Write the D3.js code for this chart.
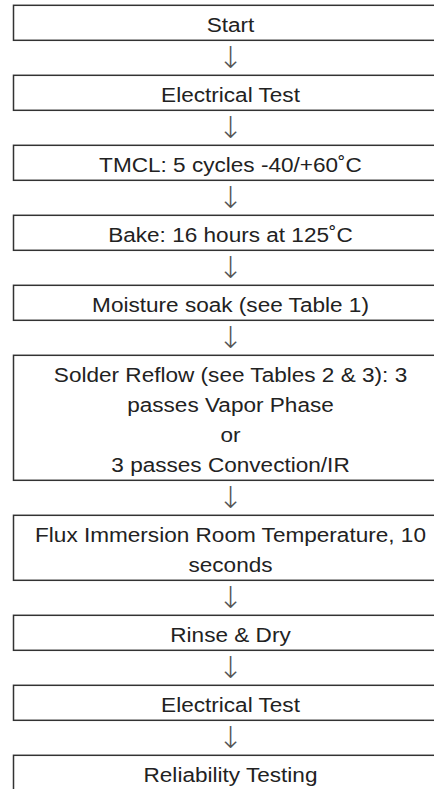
<!DOCTYPE html>
<html>
  <head>
    <meta charset="utf-8">
    <title>Test Flow</title>
    <script src="https://d3js.org/d3.v7.min.js"></script>
    <style>
      html, body { margin: 0; padding: 0; background: #fff; overflow: hidden; }
      .step-text { font-family: "Liberation Sans", Arial, sans-serif; font-size: 21px; fill: #222; }
      .arrow { font-family: "DejaVu Sans", sans-serif; font-size: 30px; font-weight: 200; fill: #555; }
    </style>
  </head>
  <body>
    <div id="chart"></div>
    <script>
      // each step is a box, lines are split as they wrap in the original
      const stepLines = [
        ["Start"],
        ["Electrical Test"],
        ["TMCL: 5 cycles -40/+60˚C"],
        ["Bake: 16 hours at 125˚C"],
        ["Moisture soak (see Table 1)"],
        ["Solder Reflow (see Tables 2 & 3): 3", "passes Vapor Phase", "or", "3 passes Convection/IR"],
        ["Flux Immersion Room Temperature, 10", "seconds"],
        ["Rinse & Dry"],
        ["Electrical Test"],
        ["Reliability Testing"]
      ];
      const arrowChar = "↓";

      const width = 434, height = 789;
      const lineH = 30, pad = 5, gap = 35;
      const boxLeft = 13.5, boxRight = 447.5;
      const cx = (boxLeft + boxRight) / 2;

      const svg = d3.select("#chart").append("svg")
          .attr("width", width)
          .attr("height", height);

      // stack the boxes top to bottom
      let cursor = 5.3;
      const boxes = stepLines.map((lines, i) => {
        const h = lines.length * lineH + pad;
        const b = { lines: lines, y: cursor, h: h, i: i };
        cursor += h + gap;
        return b;
      });

      const x = d3.scaleLinear().domain([0, 1]).range([boxLeft, boxRight]);

      const g = svg.selectAll(".step")
          .data(boxes)
        .enter().append("g")
          .attr("class", "step")
          .attr("transform", d => `translate(0,${d.y})`);

      g.append("rect")
          .attr("x", x(0))
          .attr("y", 0)
          .attr("width", x(1) - x(0))
          .attr("height", d => d.h)
          .attr("fill", "#fff")
          .attr("stroke", "#333")
          .attr("stroke-width", 1.5);

      g.each(function(d) {
        const grp = d3.select(this);
        d.lines.forEach((t, j) => {
          grp.append("g")
              .attr("transform", `translate(${cx},${26.3 + j * lineH}) scale(1.075,1)`)
            .append("text")
              .attr("class", "step-text")
              .attr("text-anchor", "middle")
              .text(t);
        });
      });

      // arrows in the gaps between boxes
      svg.selectAll(".arrow")
          .data(boxes.slice(0, -1))
        .enter().append("text")
          .attr("class", "arrow")
          .attr("x", cx)
          .attr("y", d => d.y + d.h + gap / 2)
          .attr("text-anchor", "middle")
          .attr("dominant-baseline", "central")
          .text(arrowChar);
    </script>
  </body>
</html>
